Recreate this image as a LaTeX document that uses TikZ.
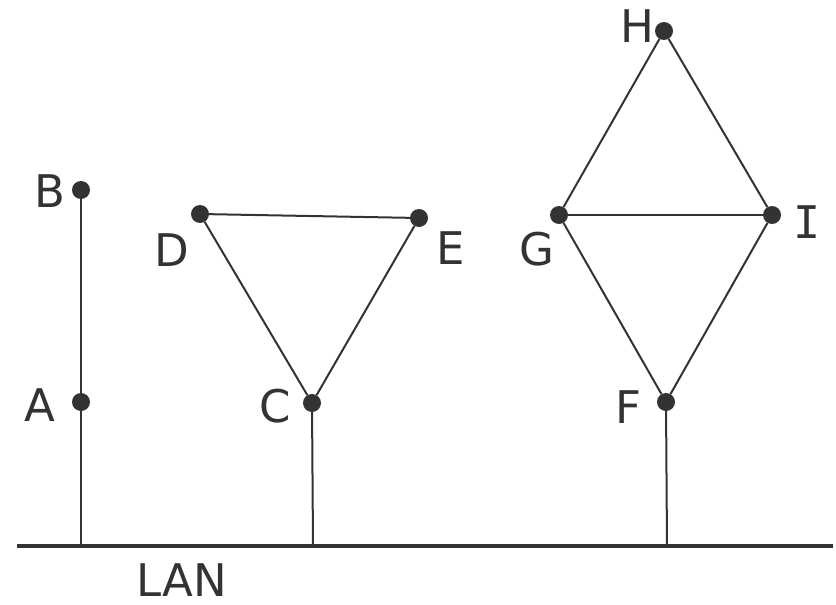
\documentclass[tikz,border=0pt]{standalone}
\usepackage{fontspec}
\setmainfont{DejaVu Sans}
\newfontfamily\serifI{DejaVu Sans Mono}
\definecolor{ink}{HTML}{333333}
\begin{document}
\begin{tikzpicture}[x=1pt,y=-1pt,
  dot/.style={circle,fill=ink,inner sep=0pt,minimum size=18pt},
  lbl/.style={inner sep=0pt,anchor=center,text=ink,font=\fontsize{45}{54}\selectfont},
  edge/.style={draw=ink,line width=2pt},
  lan/.style={draw=ink,line width=4pt}]
\useasboundingbox (0,0) rectangle (836,605);
% LAN
\coordinate (L1) at (17,546);
\coordinate (L2) at (833,546);
\draw[lan] (L1) -- (L2);
\node[lbl] (lanl) at (182,580) {LAN};
% nodes
\node[dot] (B) at (81,190) {};
\node[dot] (A) at (81,402) {};
\node[dot] (D) at (200,214) {};
\node[dot] (E) at (419,218) {};
\node[dot] (C) at (312,403) {};
\node[dot] (H) at (664,31) {};
\node[dot] (G) at (559,215) {};
\node[dot] (I) at (772,215) {};
\node[dot] (F) at (666,402) {};
\coordinate (bA) at (81,546);
\coordinate (bC) at (313,546);
\coordinate (bF) at (667,546);
% labels
\node[lbl] at (50,191) {B};
\node[lbl] at (40,405) {A};
\node[lbl] at (172,250) {D};
\node[lbl] at (451,248) {E};
\node[lbl] at (275,406) {C};
\node[lbl] at (637,26) {H};
\node[lbl] at (537,249) {G};
\node[lbl,font=\serifI\fontsize{45}{54}\selectfont] at (807,222) {I};
\node[lbl] at (628,407) {F};
% edges
\draw[edge] (B) -- (A);
\draw[edge] (A) -- (bA);
\draw[edge] (D) -- (E);
\draw[edge] (D) -- (C);
\draw[edge] (E) -- (C);
\draw[edge] (C) -- (bC);
\draw[edge] (H) -- (G);
\draw[edge] (H) -- (I);
\draw[edge] (G) -- (I);
\draw[edge] (G) -- (F);
\draw[edge] (I) -- (F);
\draw[edge] (F) -- (bF);
\end{tikzpicture}
\end{document}
